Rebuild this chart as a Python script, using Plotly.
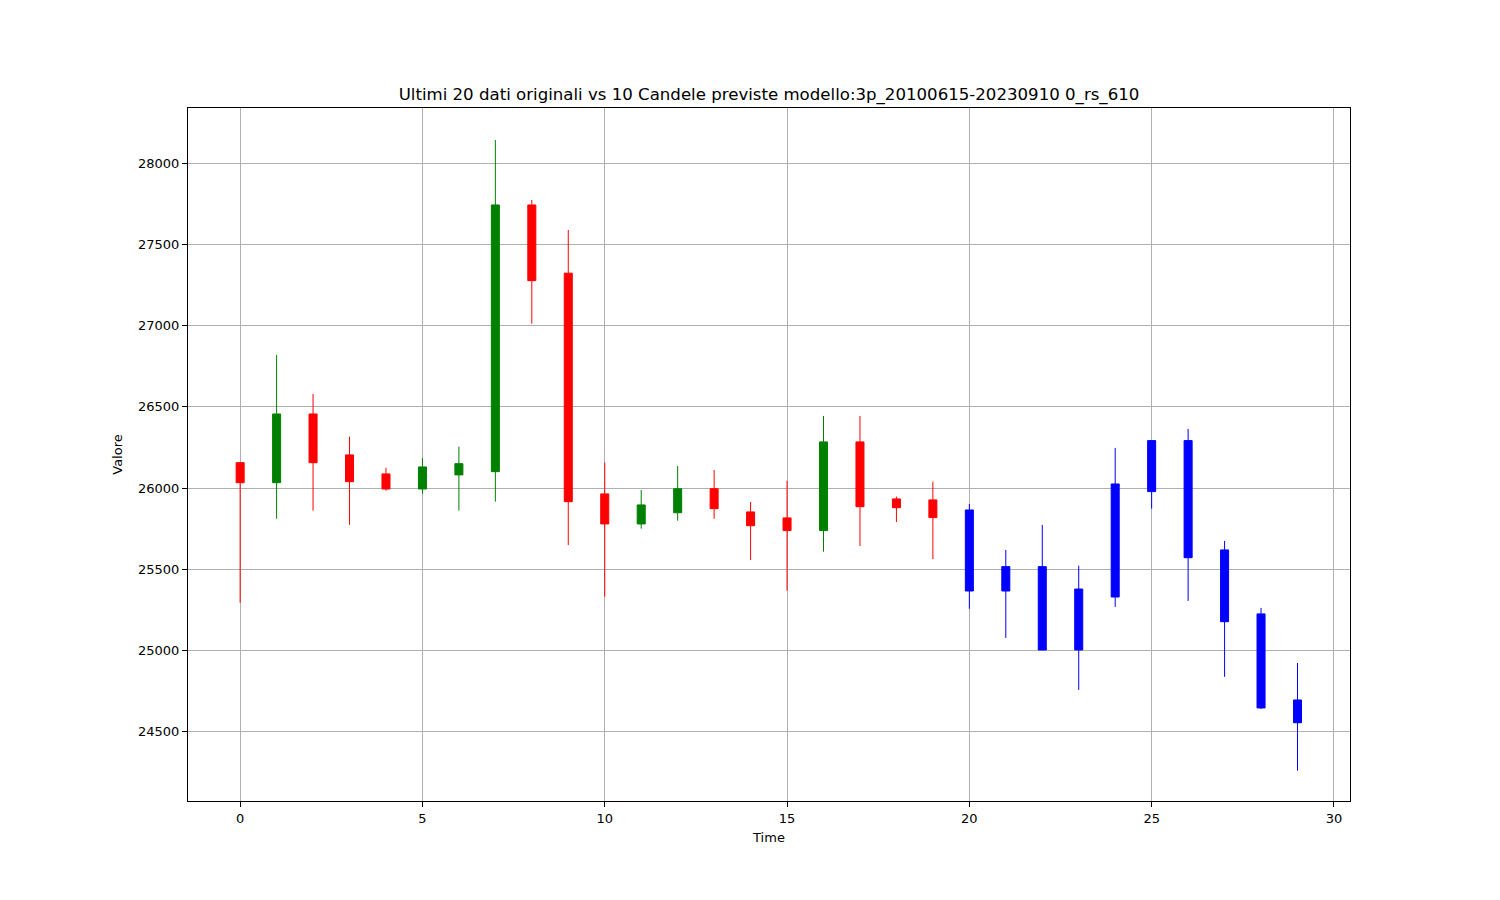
import plotly.graph_objects as go

# Original candles (t = 0..19)
orig_t = list(range(20))
orig_open = [26156, 26033, 26456, 26204, 26087, 25994, 26081, 26101, 27743, 27323,
             25964, 25779, 25848, 25996, 25853, 25816, 25738, 26284, 25933, 25927]
orig_high = [26156, 26820, 26579, 26316, 26125, 26185, 26255, 28143, 27774, 27589,
             26156, 25988, 26136, 26111, 25914, 26044, 26444, 26444, 25947, 26039]
orig_low = [25294, 25811, 25861, 25773, 25984, 25964, 25861, 25916, 27012, 25649,
            25331, 25750, 25799, 25811, 25557, 25368, 25608, 25643, 25791, 25563]
orig_close = [26033, 26456, 26156, 26039, 25994, 26130, 26150, 27743, 27277, 25916,
              25779, 25896, 25996, 25873, 25768, 25738, 26284, 25885, 25879, 25818]

# Predicted candles (t = 20..29)
pred_t = list(range(20, 30))
pred_open = [25865, 25366, 25516, 25003, 25329, 25978, 26292, 25619, 25225, 24695]
pred_high = [25902, 25619, 25773, 25522, 26247, 26292, 26364, 25674, 25262, 24923]
pred_low = [25257, 25077, 25003, 24757, 25268, 25873, 25305, 24838, 24640, 24260]
pred_close = [25366, 25516, 25003, 25378, 26025, 26292, 25571, 25177, 24646, 24555]

y_ticks = [24500, 25000, 25500, 26000, 26500, 27000, 27500, 28000]
x_ticks = [0, 5, 10, 15, 20, 25, 30]

title_text = "Ultimi 20 dati originali vs 10 Candele previste modello:3p_20100615-20230910 0_rs_610"

fig = go.Figure()
fig.add_trace(go.Candlestick(
    x=orig_t, open=orig_open, high=orig_high, low=orig_low, close=orig_close,
    increasing=dict(line=dict(color="#008000", width=1), fillcolor="#008000"),
    decreasing=dict(line=dict(color="#ff0000", width=1), fillcolor="#ff0000"),
    whiskerwidth=0, showlegend=False, name="originali",
))
fig.add_trace(go.Candlestick(
    x=pred_t, open=pred_open, high=pred_high, low=pred_low, close=pred_close,
    increasing=dict(line=dict(color="#0000ff", width=1), fillcolor="#0000ff"),
    decreasing=dict(line=dict(color="#0000ff", width=1), fillcolor="#0000ff"),
    whiskerwidth=0, showlegend=False, name="previste",
))

axis_common = dict(
    showgrid=True, gridcolor="#b0b0b0", gridwidth=1,
    showline=True, linecolor="black", linewidth=1, mirror=True,
    ticks="outside", ticklen=5, tickwidth=1, tickcolor="black",
    zeroline=False,
    tickfont=dict(family="DejaVu Sans", size=13, color="black"),
)

fig.update_layout(
    width=1500, height=900,
    margin=dict(l=180, r=158, t=100, b=107),
    paper_bgcolor="white", plot_bgcolor="white",
    boxgap=0.78, boxgroupgap=0,
    title=dict(text=title_text, x=761 / 1500, xanchor="center", y=1 - 86 / 900,
               yanchor="middle", yref="container",
               font=dict(family="DejaVu Sans", size=16.6, color="black")),
    xaxis=dict(range=[-1.43, 30.44], tickvals=x_ticks, tickformat="d",
               title=dict(text="Time", standoff=8,
                          font=dict(family="DejaVu Sans", size=13, color="black")),
               rangeslider=dict(visible=False), **axis_common),
    yaxis=dict(range=[24073, 28340], tickvals=y_ticks, tickformat="d",
               title=dict(text="Valore", standoff=12,
                          font=dict(family="DejaVu Sans", size=13, color="black")),
               **axis_common),
)

fig.write_html("out.html")
